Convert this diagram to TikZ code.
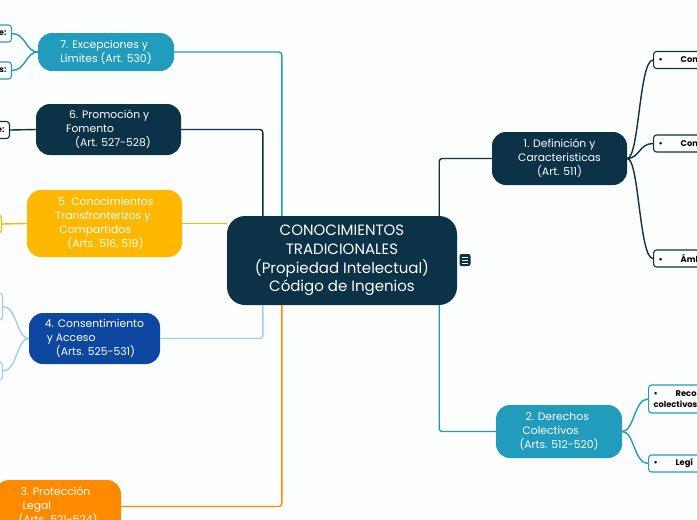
\documentclass[tikz,border=0pt]{standalone}
\usepackage{fontspec}
\setmainfont{Poppins}
\usepackage{tikz}
\usetikzlibrary{positioning,calc}
\definecolor{navy}{HTML}{0B3247}
\definecolor{lagoon}{HTML}{229CBD}
\definecolor{tangerine}{HTML}{FF8A00}
\definecolor{amber}{HTML}{FFB800}
\definecolor{royal}{HTML}{0E47A0}
\definecolor{sky}{HTML}{9DD0EA}
\definecolor{paper}{HTML}{FCFDFD}
\tikzset{
  hubbox/.style={
    rectangle, fill=navy, rounded corners=18pt, text=white,
    minimum width=230pt, minimum height=89pt, align=center,
    font=\fontsize{15}{18.7}\selectfont, inner sep=0pt
  },
  topicbox/.style={
    rectangle, fill=#1, rounded corners=14pt, text=white,
    align=left, font=\fontsize{10.8}{14}\selectfont, inner sep=0pt
  },
  topicbox/.default=navy,
  leafbox/.style={
    rectangle, draw=#1, fill=white, line width=1.1pt,
    rounded corners=3pt, font=\bfseries\fontsize{8.3}{10.5}\selectfont,
    inner xsep=5pt, inner ysep=2pt, text width=70pt
  },
  leafbox/.default=navy,
  link/.style={draw=#1, line width=1.4pt, rounded corners=3pt},
  link/.default=navy,
}

\begin{document}
\begin{tikzpicture}[x=1pt, y=-1pt]
\useasboundingbox (0,0) rectangle (697,520);
\clip (0,0) rectangle (697,520);
\fill[paper] (0,0) rectangle (697,520);

% central topic
\node[hubbox] (core) at (342,260.5)
  {CONOCIMIENTOS\\TRADICIONALES\\(Propiedad Intelectual)\\Código de Ingenios};
\node[fill=navy, rounded corners=2pt, minimum width=11pt, minimum height=12pt,
  inner sep=0pt] (notes) at (465,260) {};
\foreach \dy in {-3,0,3}
  \draw[white, line width=1pt] ([xshift=-3pt, yshift=\dy pt]notes.center)
    -- ([xshift=3pt, yshift=\dy pt]notes.center);

% main topics
\node[topicbox, align=center, minimum width=135pt, minimum height=53pt] (defn)
  at (559.5,158.5) {1. Definición y\\Caracteristicas\\(Art. 511)};
\node[topicbox=lagoon, minimum width=126pt, minimum height=53pt] (derechos)
  at (559,431.5) {\hspace*{6pt}2. Derechos\\\hspace*{3pt}Colectivos\\(Arts. 512-520)};
\node[topicbox=tangerine, minimum width=126pt, minimum height=53pt] (proteccion)
  at (58,506.5) {\hspace*{2pt}3. Protección\\\hspace*{4pt}Legal\\(Arts. 521-524)};
\node[topicbox=royal, minimum width=131pt, minimum height=51pt] (consent)
  at (94.5,338.5) {4. Consentimiento\\\hspace*{2pt}y Acceso\\\hspace*{11pt}(Arts. 525-531)};
\node[topicbox=amber, minimum width=155pt, minimum height=67pt] (transf)
  at (104.5,223.5) {\hspace*{3pt}5. Conocimientos\\Transfronterizos y\\\hspace*{4pt}Compartidos\\\hspace*{12pt}(Arts. 516, 519)};
\node[topicbox, minimum width=145pt, minimum height=51pt] (promo)
  at (108.5,129.5) {\hspace*{3pt}6. Promoción y\\Fomento\\\hspace*{9pt}(Art. 527-528)};
\node[topicbox=lagoon, minimum width=136pt, minimum height=38pt] (excep)
  at (106,52) {7. Excepciones y\\Límites (Art. 530)};

\draw[link=lagoon] (excep.east) -| ([xshift=55pt]core.north west);
\draw[link] (promo.east) -| ([xshift=36pt]core.north west);
\draw[link=amber] (transf.east) -- (transf.east -| core.west);
\draw[link=sky] (consent.east) -| ([xshift=36pt]core.south west);
\draw[link=tangerine] (proteccion.east) -| ([xshift=55pt]core.south west);
\draw[link] (defn.west) -| ([xshift=-18pt]core.north east);
\draw[link=lagoon] (derechos.west) -| ([xshift=-18pt]core.south east);

% subtopics
\node[leafbox, anchor=west, minimum height=17pt] (defnA) at (653,60) {•\hspace{18pt}Con};
\node[leafbox, anchor=west, minimum height=17pt] (defnB) at (653,143.5) {•\hspace{18pt}Con};
\node[leafbox, anchor=west, minimum height=17pt] (defnC) at (653,258.5) {•\hspace{18pt}Ámb};
\node[leafbox=lagoon, anchor=west, minimum height=28pt] (derA) at (648,399) {•\hspace{18pt}Reco\\colectivos};
\node[leafbox=lagoon, anchor=west, minimum height=17pt] (derB) at (648,463.5) {•\hspace{18pt}Legí};
\node[leafbox=lagoon, anchor=east, align=right, minimum height=17pt] (excepA) at (12,33.5) {e:};
\node[leafbox=lagoon, anchor=east, align=right, minimum height=17pt] (excepB) at (12,70.5) {s:};
\node[leafbox, anchor=east, align=right, minimum height=17pt] (promoA) at (10,130) {e:};
\node[leafbox=amber, anchor=east, minimum height=18pt] (transfA) at (2,224) {};
\node[leafbox=sky, anchor=east, minimum height=27pt] (consentA) at (3,306.5) {};
\node[leafbox=sky, anchor=east, minimum height=18pt] (consentB) at (3,371) {};

\coordinate (defnJ) at ([xshift=12pt]defn.east);
\coordinate (derJ) at ([xshift=12pt]derechos.east);
\coordinate (excepJ) at ([xshift=-12pt]excep.west);
\coordinate (consentJ) at ([xshift=-12pt]consent.west);
\foreach \leaf in {defnA,defnB,defnC}
  \draw[link] (defn.east) .. controls (defnJ) and (defnJ |- \leaf.west) .. (\leaf.west);
\foreach \leaf in {derA,derB}
  \draw[link=lagoon] (derechos.east) .. controls (derJ) and (derJ |- \leaf.west) .. (\leaf.west);
\foreach \leaf in {excepA,excepB}
  \draw[link=lagoon] (excep.west) .. controls (excepJ) and (excepJ |- \leaf.east) .. (\leaf.east);
\foreach \leaf in {consentA,consentB}
  \draw[link=sky] (consent.west) .. controls (consentJ) and (consentJ |- \leaf.east) .. (\leaf.east);
\draw[link] (promo.west) -- (promoA.east);
\draw[link=amber] (transf.west) -- (transfA.east);
\end{tikzpicture}
\end{document}
